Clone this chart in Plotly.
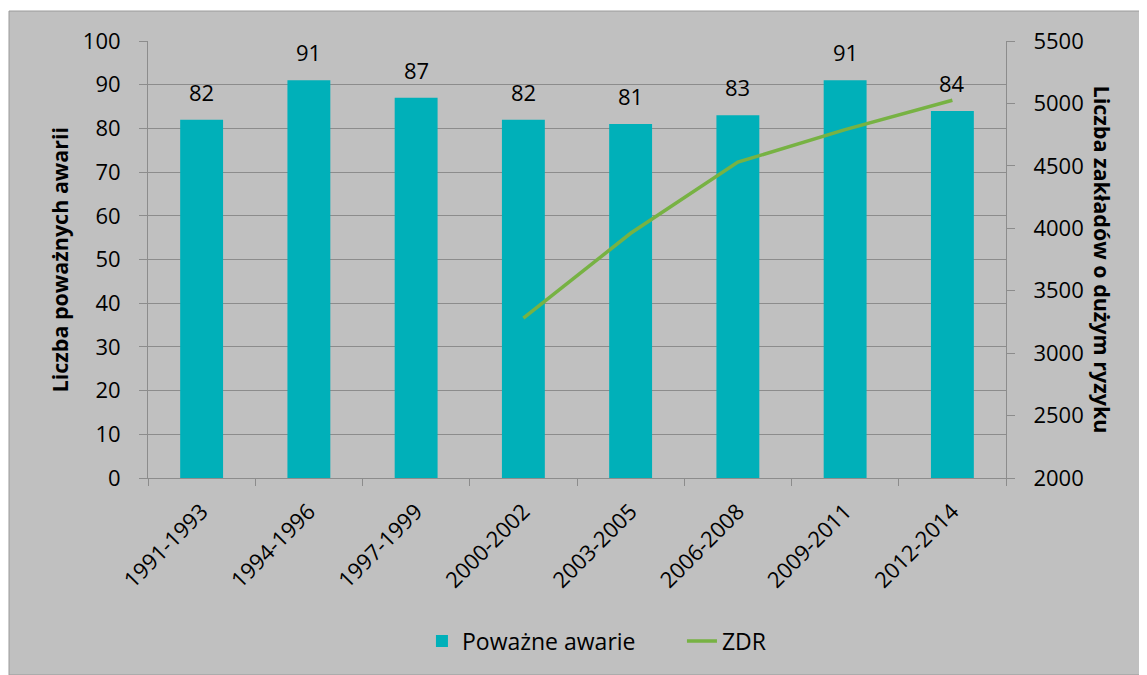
import plotly.graph_objects as go

categories = ["1991-1993", "1994-1996", "1997-1999", "2000-2002",
              "2003-2005", "2006-2008", "2009-2011", "2012-2014"]
awarie = [82, 91, 87, 82, 81, 83, 91, 84]
zdr_categories = ["2000-2002", "2003-2005", "2006-2008", "2009-2011", "2012-2014"]
zdr = [3280, 3960, 4530, 4790, 5025]

FONT = "Open Sans"
BG = "#c0c0c0"
GRID = "#8c8c8c"
FS = 22
TS = 21.5

fig = go.Figure()
fig.add_trace(go.Bar(x=categories, y=awarie, name="Poważne awarie",
                     marker=dict(color="#00b0b9", line=dict(width=0)),
                     width=0.4, yaxis="y"))
fig.add_trace(go.Scatter(x=zdr_categories, y=zdr, name="ZDR", mode="lines",
                         line=dict(color="#77b243", width=3.5), yaxis="y2"))

for c, v in zip(categories, awarie):
    fig.add_annotation(x=c, y=v, text=str(v), showarrow=False, yref="y",
                       yanchor="bottom", yshift=11,
                       font=dict(family=FONT, size=FS, color="#000"))

fig.add_annotation(xref="paper", yref="paper", x=-0.1026, y=0.5,
                   xanchor="center", yanchor="middle",
                   text="<b>Liczba poważnych awarii</b>", textangle=-90,
                   showarrow=False, font=dict(family=FONT, size=TS, color="#000"))
fig.add_annotation(xref="paper", yref="paper", x=1.113, y=0.5,
                   xanchor="center", yanchor="middle",
                   text="<b>Liczba zakładów o dużym ryzyku</b>", textangle=90,
                   showarrow=False, font=dict(family=FONT, size=TS, color="#000"))

# chart area background with border
fig.add_shape(type="rect", xref="paper", yref="paper",
              x0=-0.162, x1=1.163, y0=-0.4508, y1=1.0686,
              fillcolor=BG, line=dict(color="#9a9a9a", width=1), layer="below")

fig.update_layout(
    width=1139, height=667,
    margin=dict(l=140, r=141, t=33, b=197),
    paper_bgcolor="white", plot_bgcolor="rgba(0,0,0,0)",
    font=dict(family=FONT, size=FS, color="#000"),
    showlegend=True,
    legend=dict(orientation="h", x=0.3193, xanchor="left", y=-0.373, yanchor="middle",
                entrywidth=215, entrywidthmode="pixels",
                bgcolor="rgba(0,0,0,0)", font=dict(family=FONT, size=23)),
    xaxis=dict(type="category", categoryarray=categories, categoryorder="array",
               showline=True, linecolor=GRID, linewidth=1,
               ticks="outside", ticklen=7, tickcolor=GRID, tickson="boundaries",
               tickangle=-45, tickfont=dict(family=FONT, size=FS),
               ticklabelstandoff=11, showgrid=False),
    yaxis=dict(range=[0, 100], dtick=10, showline=True, linecolor=GRID, linewidth=1,
               ticks="outside", ticklen=8, tickcolor=GRID,
               showgrid=True, gridcolor=GRID, gridwidth=1, zeroline=False,
               ticklabelstandoff=14, tickfont=dict(family=FONT, size=FS)),
    yaxis2=dict(range=[2000, 5500], dtick=500, overlaying="y", side="right",
                showline=True, linecolor=GRID, linewidth=1,
                ticks="outside", ticklen=8, tickcolor=GRID, showgrid=False,
                zeroline=False, ticklabelstandoff=14,
                tickfont=dict(family=FONT, size=FS)),
)

fig.write_html("out.html")
